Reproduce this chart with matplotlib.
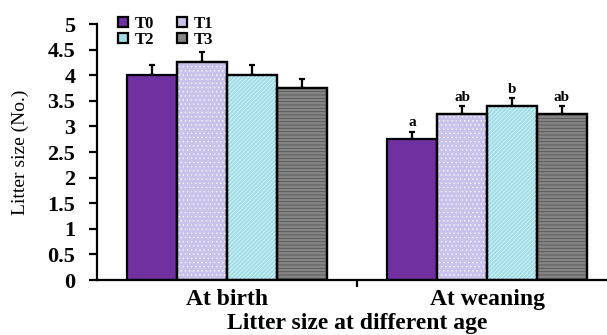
import numpy as np
import matplotlib

matplotlib.use("Agg")
import matplotlib.pyplot as plt
from matplotlib.lines import Line2D

# data
CATEGORIES = ["At birth", "At weaning"]
TREATMENTS = ["T0", "T1", "T2", "T3"]
MEANS = {
    "T0": [4.00, 2.75],
    "T1": [4.25, 3.25],
    "T2": [4.00, 3.40],
    "T3": [3.75, 3.25],
}
ERRORS = {
    "T0": [0.20, 0.15],
    "T1": [0.20, 0.15],
    "T2": [0.20, 0.15],
    "T3": [0.18, 0.15],
}
LETTERS = {
    "T0": ["", "a"],
    "T1": ["", "ab"],
    "T2": ["", "b"],
    "T3": ["", "ab"],
}
Y_TICKS = [0, 0.5, 1, 1.5, 2, 2.5, 3, 3.5, 4, 4.5, 5]

# styles
FACE = {"T0": "#7030a0", "T1": "#c9c2ea", "T2": "#a3dde6", "T3": "#858585"}
HATCH = {"T0": None, "T1": "....", "T2": "////////", "T3": "-----"}
HATCH_COLOR = {"T0": None, "T1": "#f2f0fb", "T2": "#d6f3f7", "T3": "#555555"}
BAR_W = 0.192

plt.rcParams["font.family"] = ["Liberation Serif", "DejaVu Serif"]
plt.rcParams["hatch.linewidth"] = 0.6

fig = plt.figure(figsize=(6.07, 3.35), dpi=100)
W, H = 607, 335
# axes: left spine at x=97, y=0 at 280, y=5 at 24; right edge clipped by image
ax = fig.add_axes([97 / W, (H - 280) / H, (607 - 97) / W, (280 - 24) / H])

x = np.arange(len(CATEGORIES))
offsets = (np.arange(len(TREATMENTS)) - 1.5) * BAR_W
for i, t in enumerate(TREATMENTS):
    xs = x + offsets[i]
    ax.bar(xs, MEANS[t], width=BAR_W, color=FACE[t], edgecolor="black",
           linewidth=1.6, zorder=2)
    if HATCH[t]:
        ax.bar(xs, MEANS[t], width=BAR_W, color="none", edgecolor=HATCH_COLOR[t],
               hatch=HATCH[t], linewidth=0, zorder=2.5)
        ax.bar(xs, MEANS[t], width=BAR_W, color="none", edgecolor="black",
               linewidth=1.6, zorder=2.6)
    ax.errorbar(xs, MEANS[t], yerr=[np.zeros(len(xs)), ERRORS[t]], fmt="none",
                ecolor="black", elinewidth=1.6, capsize=2, capthick=1.6, zorder=1.5)
    for xi, m, e, lab in zip(xs, MEANS[t], ERRORS[t], LETTERS[t]):
        if lab:
            ax.text(xi, m + e + 0.04, lab, ha="center", va="bottom",
                    fontsize=11, fontweight="bold")

ax.set_xlim(-0.5, (607 - 227) / 260)
ax.set_ylim(0, 5)
ax.set_yticks(Y_TICKS)
ax.set_yticklabels(["%g" % v for v in Y_TICKS], fontsize=16, fontweight="bold")
ax.set_xticks([0.5])
ax.set_xticklabels([""])
for xi, c in zip(x, CATEGORIES):
    ax.text(xi, -0.39, c, ha="center", va="center", fontsize=17,
            fontweight="bold")
ax.text(0.5, -0.84, "Litter size at different age",
        ha="center", va="center", fontsize=17, fontweight="bold")

ax.spines["top"].set_visible(False)
ax.spines["right"].set_visible(False)
for s in ("left", "bottom"):
    ax.spines[s].set_linewidth(1.6)
ax.tick_params(axis="y", direction="out", length=5.5, width=1.6, pad=10)
ax.tick_params(axis="x", direction="out", length=5, width=1.6)

fig.text(20 / W, 1 - 152 / H, "Litter size (No.)", rotation=90, ha="center",
         va="center", fontsize=14)

# legend fills column-first, so order entries to give rows T0 T1 / T2 T3
order = ["T0", "T2", "T1", "T3"]
handles = [Line2D([], [], linestyle="none", marker="s", markersize=7,
                  markerfacecolor=FACE[t], markeredgecolor="black",
                  markeredgewidth=1.6) for t in order]
leg = fig.legend(handles, order, ncol=2, loc="upper left",
                 bbox_to_anchor=(108 / W, 1 - 8 / H), frameon=False,
                 prop={"size": 12, "weight": "bold"}, handlelength=0.8,
                 handletextpad=0.3, columnspacing=1.3, labelspacing=0.0,
                 borderpad=0)

fig.savefig("out.png", dpi=100, facecolor="white")
